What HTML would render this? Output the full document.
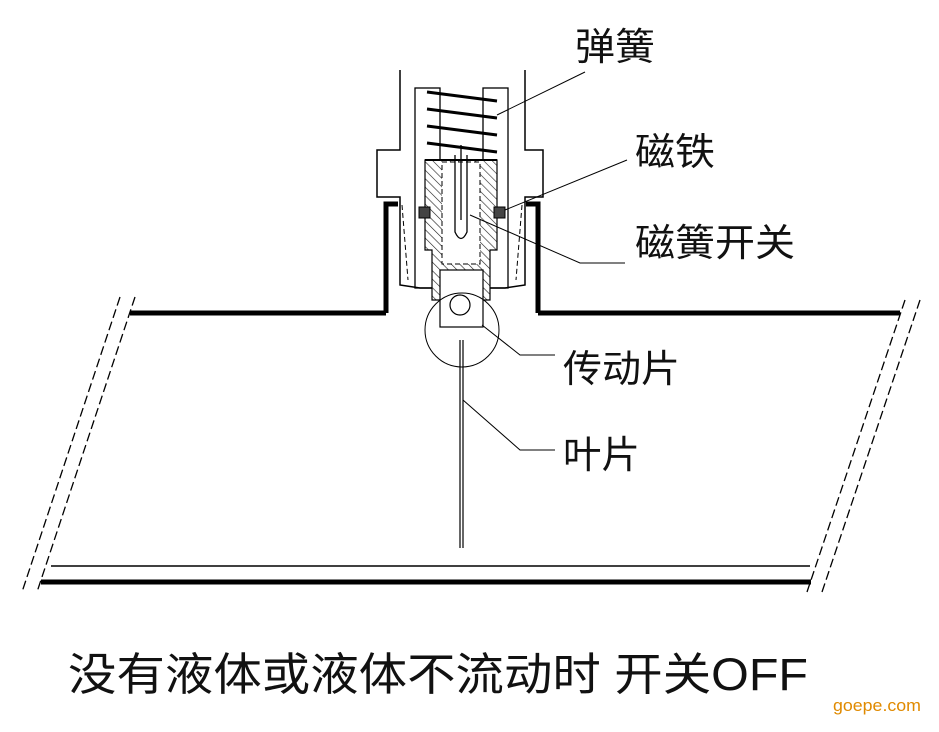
<!DOCTYPE html>
<html><head><meta charset="utf-8"><style>
html,body{margin:0;padding:0;background:#fff;}
svg{display:block;}
text{font-family:"Liberation Sans","Noto Sans CJK SC",sans-serif;fill:#111;}
</style></head><body>
<svg width="939" height="732" viewBox="0 0 939 732" xmlns="http://www.w3.org/2000/svg">
<defs>
<pattern id="h" width="6" height="6" patternUnits="userSpaceOnUse" patternTransform="rotate(-45)">
<rect width="6" height="6" fill="#fff"/><line x1="0" y1="0" x2="0" y2="6" stroke="#222" stroke-width="1.2"/>
</pattern>
</defs>
<!-- pipe -->
<g stroke="#000" fill="none">
<line x1="130" y1="313" x2="386" y2="313" stroke-width="5"/>
<line x1="538" y1="313" x2="900" y2="313" stroke-width="5"/>
<line x1="41" y1="582" x2="811" y2="582" stroke-width="5"/>
<line x1="51" y1="566" x2="810" y2="566" stroke-width="1.5"/>
<g stroke-dasharray="9,4" stroke-width="1.3">
<line x1="120" y1="297" x2="22" y2="592"/>
<line x1="135" y1="297" x2="37" y2="592"/>
<line x1="905" y1="300" x2="807" y2="592"/>
<line x1="920" y1="300" x2="822" y2="592"/>
</g>
<!-- socket walls -->
<polyline points="386,313 386,204 398,204" stroke-width="5"/>
<polyline points="538,313 538,204 526,204" stroke-width="5"/>
<!-- body outline -->
<polyline points="400,70 400,150 377,150 377,197 400,197 400,285 420,288 505,288 525,285 525,197 543,197 543,150 525,150 525,70" stroke-width="1.5"/>
<polyline points="402,205 408,280" stroke-dasharray="5,3" stroke-width="1"/>
<polyline points="522,205 516,280" stroke-dasharray="5,3" stroke-width="1"/>
<!-- inner walls -->
<rect x="415" y="88" width="25" height="200" stroke-width="1.3"/>
<rect x="483" y="88" width="25" height="200" stroke-width="1.3"/>
<!-- springs -->
<g stroke-width="3">
<line x1="427" y1="92" x2="497" y2="101"/>
<line x1="427" y1="109" x2="497" y2="118"/>
<line x1="427" y1="126" x2="497" y2="135"/>
<line x1="427" y1="143" x2="497" y2="152"/>
</g>
</g>
<!-- hatched holder -->
<path d="M425,160 L497,160 L497,250 L490,250 L490,300 L432,300 L432,250 L425,250 Z" fill="url(#h)" stroke="#000" stroke-width="1.2"/>
<rect x="442" y="162" width="38" height="102" fill="#fff" stroke="#000" stroke-dasharray="5,3" stroke-width="1"/>
<rect x="440" y="270" width="43" height="57" fill="#fff" stroke="#000" stroke-width="1.2"/>
<line x1="425" y1="160" x2="497" y2="160" stroke="#000" stroke-width="2"/>
<!-- reed -->
<path d="M455,155 L455,232 Q461,245 467,232 L467,155" fill="none" stroke="#000" stroke-width="1.3"/>
<line x1="461" y1="145" x2="461" y2="220" stroke="#000" stroke-width="1.3"/>
<!-- magnets -->
<rect x="419" y="207" width="11" height="11" fill="#444" stroke="#000"/>
<rect x="494" y="207" width="11" height="11" fill="#444" stroke="#000"/>
<!-- circle & blade -->
<circle cx="462" cy="330" r="37" fill="none" stroke="#000" stroke-width="1"/>
<circle cx="460" cy="305" r="10" fill="none" stroke="#000" stroke-width="1.2"/>
<line x1="460" y1="340" x2="460" y2="548" stroke="#000" stroke-width="1.2"/>
<line x1="463" y1="340" x2="463" y2="548" stroke="#000" stroke-width="1.2"/>
<!-- leaders -->
<g stroke="#000" stroke-width="1" fill="none">
<line x1="497" y1="115" x2="585" y2="72"/>
<line x1="505" y1="210" x2="627" y2="160"/>
<polyline points="470,215 580,263 625,263"/>
<polyline points="482,325 520,355 555,355"/>
<polyline points="463,400 520,450 555,450"/>
</g>
<!-- labels -->
<text x="575" y="60" font-size="38" textLength="80" lengthAdjust="spacingAndGlyphs">弹簧</text>
<text x="635" y="165" font-size="38" textLength="80" lengthAdjust="spacingAndGlyphs">磁铁</text>
<text x="635" y="256" font-size="38" textLength="160" lengthAdjust="spacingAndGlyphs">磁簧开关</text>
<text x="563" y="382" font-size="38" textLength="117" lengthAdjust="spacingAndGlyphs">传动片</text>
<text x="563" y="468" font-size="38" textLength="77" lengthAdjust="spacingAndGlyphs">叶片</text>
<text x="68" y="690" font-size="45" textLength="740" lengthAdjust="spacingAndGlyphs">没有液体或液体不流动时 开关OFF</text>
<text x="833" y="711" font-size="17" style="fill:#e08a00" textLength="88" lengthAdjust="spacingAndGlyphs">goepe.com</text>
</svg>
</body></html>
